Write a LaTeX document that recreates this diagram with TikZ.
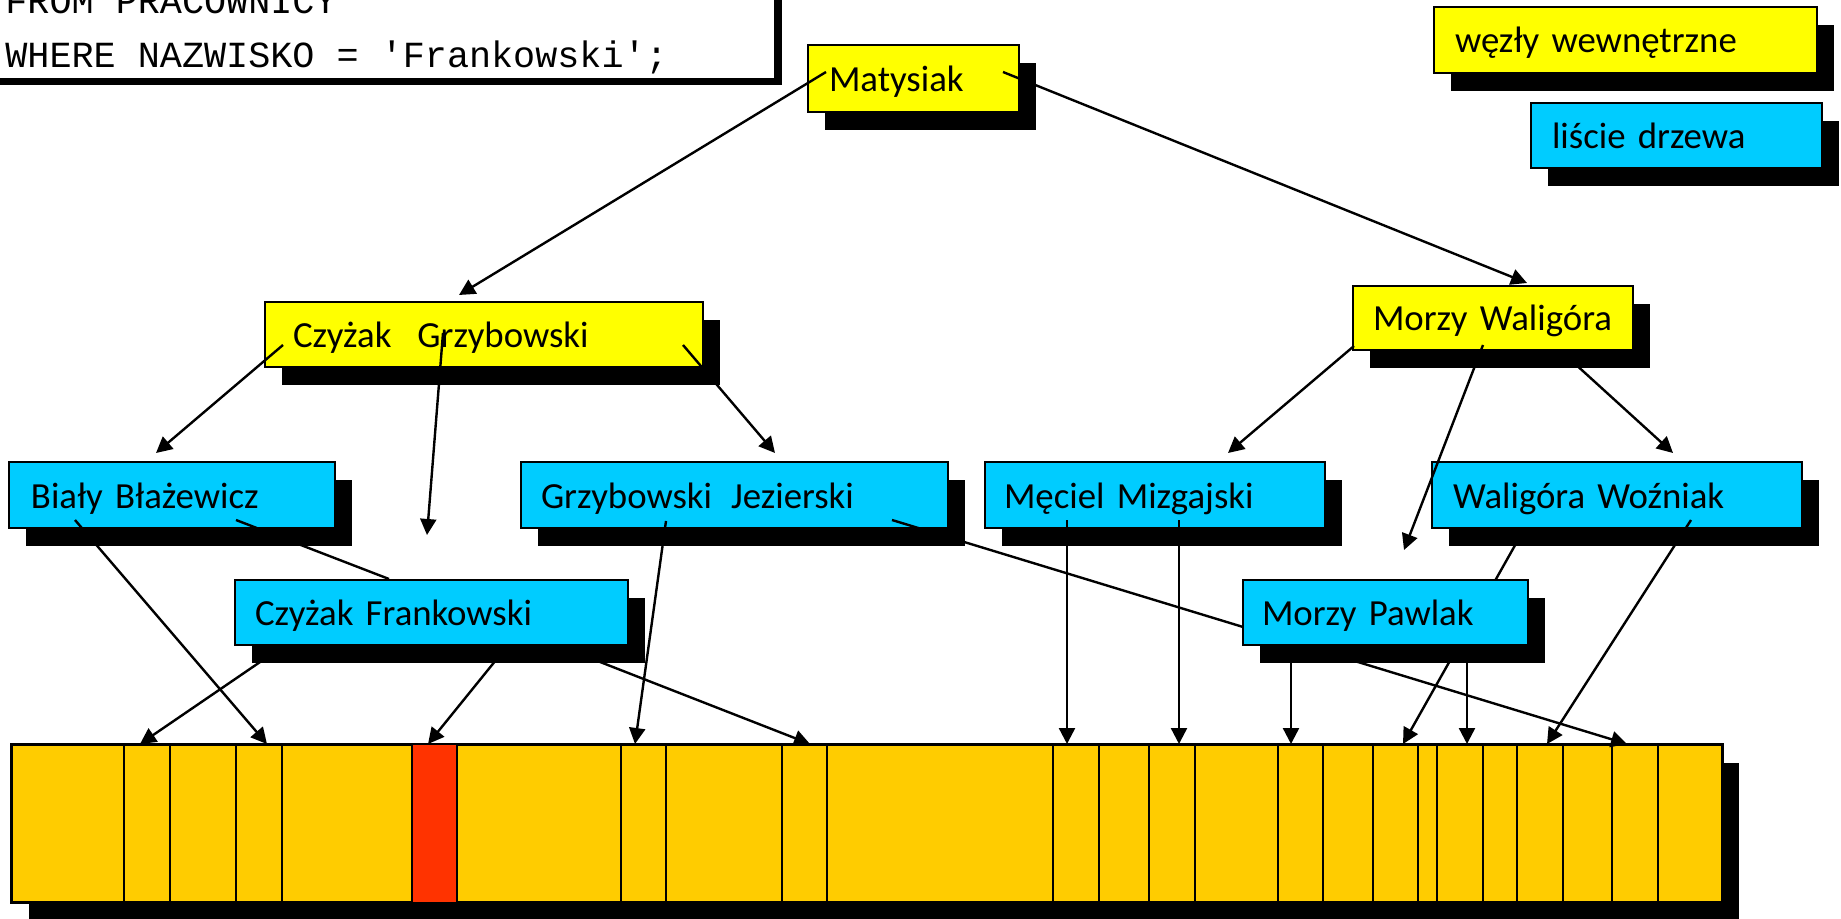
\documentclass[tikz,border=0pt]{standalone}
\usepackage{fontspec}
\setmainfont{Carlito}
\newfontfamily\codefont{Liberation Mono}
\usetikzlibrary{shadows,arrows.meta}
\definecolor{inyel}{RGB}{255,255,0}
\definecolor{leafc}{RGB}{0,204,255}
\definecolor{barc}{RGB}{255,204,0}
\definecolor{hitc}{RGB}{255,51,0}
\tikzset{
  sh/.style={drop shadow={shadow xshift=8.5pt, shadow yshift=-9pt, fill=black, opacity=1}},
  bx/.style n args={4}{draw=black, line width=1pt, sh, minimum width=#1, minimum height=#2,
     inner xsep=#3, text width=#4, align=left, inner ysep=0pt, text height=16pt, text depth=3pt,
     font=\fontsize{18.4}{22}\selectfont},
  innernode/.style={fill=inyel},
  leafnode/.style={fill=leafc},
  con/.style={line width=1.2pt, draw=black},
  arr/.style={con, -{Triangle[length=8pt,width=8pt]}},
  cell/.style={line width=1pt},
  codetext/.style={inner sep=0pt, anchor=base west, font=\codefont\fontsize{18.4}{22}\selectfont},
}
\begin{document}
\begin{tikzpicture}[x=0.5pt,y=-0.5pt]
\useasboundingbox (0,0) rectangle (1841,919);
\clip (0,0) rectangle (1841,919);

% SQL box
\node[draw=black, line width=1pt, fill=white, minimum width=397.5pt, minimum height=69.5pt, inner sep=0pt,
      drop shadow={shadow xshift=3.5pt, shadow yshift=-3pt, fill=black, opacity=1}] (sqlbox) at (377.5,9.5) {};
\node[codetext] (sql1) at (5,14) {FROM PRACOWNICY};
\node[codetext] (sql2) at (5,68) {WHERE NAZWISKO = 'Frankowski';};

% bar of records
\node[draw=black, line width=1pt, fill=barc, sh, minimum width=855pt, minimum height=78.5pt, inner sep=0pt] (bar) at (867,823.5) {};
\fill[hitc] (412,0 |- bar.north) rectangle (457,0 |- bar.south);
\foreach \x in {124,170,236,282,412,457,621,666,782,827,1053,1099,1149,1195,1278,1323,1373,1418,1437,1483,1517,1563,1612,1658}
  \draw[cell] (\x,0 |- bar.north) -- (\x,0 |- bar.south);
\draw[line width=1pt] (bar.north west) rectangle (bar.south east);

% inner nodes
\node[bx={105.5pt}{33.5pt}{10.5pt}{84.5pt}, innernode] (mat) at (913.5,78.5) {Matysiak};
\node[bx={219pt}{32.5pt}{14pt}{191pt}, innernode] (czg) at (484,334.5) {Czyżak\hspace{13pt}Grzybowski};
\node[bx={140pt}{32pt}{10pt}{120pt}, innernode] (mw) at (1493,318) {Morzy Waligóra};

% legend
\node[bx={191.5pt}{33pt}{10.5pt}{170.5pt}, innernode] (leg1) at (1625.5,40) {węzły wewnętrzne};
\node[bx={145.5pt}{32.5pt}{10.5pt}{124.5pt}, leafnode] (leg2) at (1676.5,135.5) {liście drzewa};

% leaves
\node[bx={163pt}{33pt}{11pt}{141pt}, leafnode] (bial) at (172,495) {Biały Błażewicz};
\node[bx={213.5pt}{33pt}{10pt}{193.5pt}, leafnode] (gj) at (734.5,495) {Grzybowski\hspace{9.5pt}Jezierski};
\node[bx={170pt}{33pt}{9.5pt}{151pt}, leafnode] (mm) at (1155,495) {Męciel Mizgajski};
\node[bx={185pt}{33pt}{10.5pt}{164pt}, leafnode] (ww) at (1617,495) {Waligóra Woźniak};
\node[bx={196.5pt}{32.5pt}{10pt}{176.5pt}, leafnode] (cf) at (431.5,612.5) {Czyżak Frankowski};

% connector end points
\coordinate (matL) at (826,72);
\coordinate (matR) at (1003,72);
\coordinate (czgT) at (459,295);
\coordinate (mwT) at (1527,283);
\coordinate (czgA) at (283,345);
\coordinate (czgB) at (443,333);
\coordinate (czgC) at (683,345);
\coordinate (bialT) at (156,453);
\coordinate (cfT) at (427,535);
\coordinate (gjT) at (775,453);
\coordinate (mwA) at (1354,346);
\coordinate (mwB) at (1483,345);
\coordinate (mwC) at (1562,352);
\coordinate (mmT) at (1228,453);
\coordinate (mpT) at (1404,550);
\coordinate (wwT) at (1673,453);
\coordinate (bialA) at (75,520);
\coordinate (bialB) at (236,520);
\coordinate (cfA) at (263,660);
\coordinate (cfB) at (496,660);
\coordinate (cfC) at (595,660);
\coordinate (gjA) at (666,521);
\coordinate (gjB) at (892,520);
\coordinate (mmA) at (1067,520);
\coordinate (mmB) at (1179,520);
\coordinate (mpA) at (1291,660);
\coordinate (mpB) at (1467,660);
\coordinate (wwA) at (1518,540);
\coordinate (wwB) at (1691,520);

% connectors passing under "Morzy Pawlak"
\draw[arr] (gjB) -- (1627,0 |- bar.north);
\draw[arr] (wwA) -- (1403,0 |- bar.north);

\node[bx={142.5pt}{32.5pt}{9.5pt}{123.5pt}, leafnode] (mp) at (1385.5,612.5) {Morzy Pawlak};

% tree connectors
\draw[arr] (matL) -- (czgT);
\draw[arr] (matR) -- (mwT);
\draw[arr] (czgA) -- (bialT);
\draw[arr] (czgB) -- (cfT);
\draw[arr] (czgC) -- (gjT);
\draw[arr] (mwA) -- (mmT);
\draw[arr] (mwB) -- (mpT);
\draw[arr] (mwC) -- (wwT);

% leaf connectors
\draw[arr] (bialA) -- (267,0 |- bar.north);
\draw[con] (bialB) -- (389,0 |- cf.north);
\draw[arr] (cfA) -- (140,0 |- bar.north);
\draw[arr] (cfB) -- (428,0 |- bar.north);
\draw[arr] (cfC) -- (810,0 |- bar.north);
\draw[arr] (gjA) -- (635,0 |- bar.north);
\draw[arr] (mmA) -- (1067,0 |- bar.north);
\draw[arr] (mmB) -- (1179,0 |- bar.north);
\draw[arr] (mpA) -- (1291,0 |- bar.north);
\draw[arr] (mpB) -- (1467,0 |- bar.north);
\draw[arr] (wwB) -- (1547,0 |- bar.north);
\end{tikzpicture}
\end{document}
